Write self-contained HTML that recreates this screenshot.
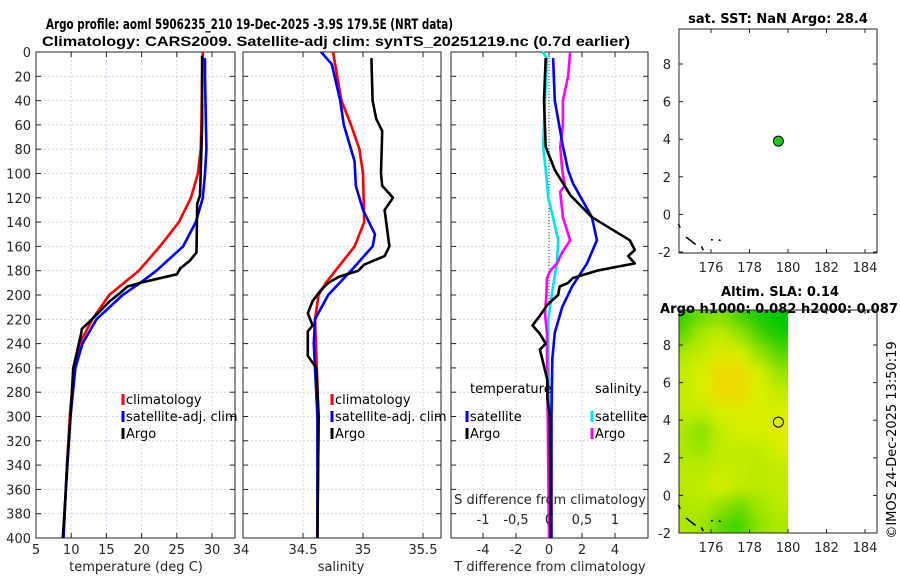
<!DOCTYPE html>
<html><head><meta charset="utf-8"><style>
body{margin:0;background:#fff}
svg{display:block;font-family:"DejaVu Sans","Liberation Sans",sans-serif}
</style></head><body>
<svg id="s" width="900" height="580" viewBox="0 0 900 580">
<defs>
<filter id="blur" x="-10%" y="-10%" width="120%" height="120%"><feGaussianBlur stdDeviation="7"/></filter>
<clipPath id="slaclip"><rect x="679" y="310" width="109" height="223"/></clipPath>
</defs>
</svg>
<script>
// ---------- data ----------
const climTdepth=[0,20,60,80,100,120,140,160,180,200,220,240,260,300,340,400];
const climTval=[28.7,28.6,28.5,28.4,28.0,27.0,25.3,22.6,19.6,15.4,13.0,11.2,10.4,9.8,9.4,8.9];
const satTdepth=[5,20,80,100,120,140,160,180,190,200,220,240,260,300,340,400];
const satTval=[29.0,29.0,29.2,29.0,28.7,27.7,25.9,22.1,19.8,17.3,13.6,11.6,10.6,9.9,9.4,8.9];
const argoTdepth=[3,60,100,118,125,165,172,178,183,187,190,193,198,205,215,222,228,232,260,300,400];
const argoTval=[28.6,28.6,28.4,28.3,27.9,27.8,26.8,25.5,25.0,22.0,19.8,18.0,17.0,15.5,13.8,12.6,11.5,11.4,10.3,9.9,8.8];

const climSdepth=[0,40,60,80,100,140,160,180,190,200,220,300,400];
const climSval=[34.75,34.82,34.9,34.97,35.0,35.01,34.93,34.77,34.69,34.63,34.6,34.63,34.62];
const satSdepth=[0,10,40,60,90,110,130,150,160,180,200,220,240,300,400];
const satSval=[34.65,34.74,34.81,34.84,34.93,34.94,35.0,35.1,35.08,34.9,34.71,34.6,34.59,34.62,34.62];
const argoSdepth=[5,40,55,65,100,110,120,130,160,168,175,180,185,190,196,205,215,225,230,250,260,300,400];
const argoSval=[35.07,35.08,35.11,35.16,35.15,35.16,35.25,35.18,35.22,35.18,35.01,34.96,34.8,34.71,34.65,34.58,34.54,34.58,34.54,34.54,34.61,34.63,34.62];

const dTsatDepth=[5,40,78,97,108,136,155,174,193,210,231,253,300,400];
const dTsatVal=[0.25,0.35,0.85,1.15,1.45,2.6,2.9,2.3,1.4,0.8,0.35,0.2,0.15,0.15];
const dTargoDepth=[5,40,78,97,108,118,136,155,163,168,174,180,186,190,193,200,208,217,225,232,240,245,256,270,285,300,400];
const dTargoVal=[-0.2,-0.3,-0.2,0.35,0.85,1.3,2.6,4.9,5.2,4.8,5.2,2.9,1.45,1.15,0.65,0.55,-0.1,-0.55,-1.0,-0.55,-0.2,-0.55,-0.35,-0.1,-0.1,0.05,0.1];
const dSsatDepth=[0,5,40,78,97,120,136,155,174,193,220,250,300,400];
const dSsatVal=[-0.1,-0.03,-0.06,-0.09,-0.05,-0.01,0.06,0.14,0.12,0.06,-0.01,-0.01,0.01,0.02];
const dSargoDepth=[0,20,40,60,78,97,110,115,136,155,165,174,180,186,200,215,232,250,300,400];
const dSargoVal=[0.32,0.29,0.21,0.21,0.17,0.2,0.24,0.17,0.21,0.32,0.2,0.12,0.02,-0.03,-0.04,-0.06,-0.03,-0.03,-0.02,0.0];

const depthTicks=[0,20,40,60,80,100,120,140,160,180,200,220,240,260,280,300,320,340,360,380,400];
const tTicks=[5,10,15,20,25,30];
const sTicks=[34,34.5,35,35.5];
const dtTicks=[-4,-2,0,2,4];
const dsTicks=[-1,-0.5,0,0.5,1];
const dsTickLabels=["-1","-0,5","0","0,5","1"];
const lonTicks=[176,178,180,182,184];
const latTicks=[-2,0,2,4,6,8];
const slaLat=[9.5,8.5,7.5,6.5,5.5,4.5,3.5,2.5,1.5,0.5,-0.5,-1.5];
const slaLon=[174.5,175.5,176.5,177.5,178.5,179.5];
const slaVal=[
[0.2,0.5,0.6,0.3,0.1,0.0],
[0.4,0.8,0.9,0.7,0.3,0.1],
[0.8,0.9,1.1,1.0,0.7,0.4],
[0.9,1.0,1.3,1.3,1.0,0.7],
[0.9,1.0,1.3,1.3,1.0,0.9],
[0.9,0.9,1.0,1.1,1.0,1.0],
[0.8,0.6,0.9,1.0,1.0,1.1],
[0.8,0.7,0.9,0.9,0.9,1.0],
[0.85,0.85,0.9,0.9,0.85,0.9],
[0.85,0.9,1.0,0.9,0.85,0.9],
[0.8,0.85,0.7,0.5,0.75,0.85],
[0.8,0.75,0.4,0.3,0.65,0.8]];
const argoLon=179.5, argoLat=3.9;

// ---------- helpers ----------
const S=document.getElementById('s');const NS='http://www.w3.org/2000/svg';
function el(t,a,p){const e=document.createElementNS(NS,t);for(const k in a)e.setAttribute(k,a[k]);(p||S).appendChild(e);return e;}
function txt(x,y,s,a,p){const e=el('text',Object.assign({x:x,y:y,'font-size':13,fill:'#262626'},a||{}),p);e.textContent=s;return e;}
const Y0=52,Y1=538;
const yD=d=>Y0+(d/400)*(Y1-Y0);
function lin(d0,d1,r0,r1){return v=>r0+(v-d0)/(d1-d0)*(r1-r0);}

function panel(name,x0,x1,xs,xticks,showY){
  const g=el('g',{});
  
  
  xticks.forEach(v=>{const X=xs(v);if(X>x0+1&&X<x1-1)el('line',{x1:X,y1:Y0,x2:X,y2:Y1,stroke:'#c8cfe6','stroke-width':0.8,'stroke-dasharray':'2,2'},g);});
  depthTicks.forEach(d=>{const Y=yD(d);el('line',{x1:x0,y1:Y,x2:x1,y2:Y,stroke:'#c8cfe6','stroke-width':0.8,'stroke-dasharray':'2,2'},g);
    el('line',{x1:x0,y1:Y,x2:x0+5,y2:Y,stroke:'#262626'},g);el('line',{x1:x1-5,y1:Y,x2:x1,y2:Y,stroke:'#262626'},g);
    if(showY){const t=txt(x0-5,Y+5,String(d),{'text-anchor':'end'});}});
  xticks.forEach(v=>{const X=xs(v);el('line',{x1:X,y1:Y0,x2:X,y2:Y0+5,stroke:'#262626'},g);el('line',{x1:X,y1:Y1-5,x2:X,y2:Y1,stroke:'#262626'},g);});
  el('rect',{x:x0,y:Y0,width:x1-x0,height:Y1-Y0,fill:'none',stroke:'#262626','stroke-width':1},g);
  return g;
}
function line(xs,depths,vals,color,name){
  const pts=depths.map((d,i)=>xs(vals[i]).toFixed(1)+','+yD(d).toFixed(1)).join(' ');
  const p=el('polyline',{points:pts,fill:'none',stroke:color,'stroke-width':2.6,'stroke-linejoin':'round'});
  
  
}
function legendEntry(x,y,color,label){
  const g=el('g',{});
  
  
  el('line',{x1:x,y1:y-10,x2:x,y2:y+1,stroke:color,'stroke-width':3},g);
  txt(x+3,y,label,{fill:'#000'},g);
}

// ---------- titles ----------
let t=txt(46,29,'Argo profile: aoml 5906235_210 19-Dec-2025 -3.9S 179.5E (NRT data)',{'font-weight':'bold',fill:'#000','font-size':14,textLength:407,lengthAdjust:'spacingAndGlyphs'});

t=txt(42,46,'Climatology: CARS2009. Satellite-adj clim: synTS_20251219.nc (0.7d earlier)',{'font-weight':'bold',fill:'#000','font-family':'Liberation Sans, sans-serif','font-size':14,textLength:588,lengthAdjust:'spacingAndGlyphs'});


// ---------- panel 1 ----------
const xT=lin(5,30,36,212);
panel('temperature-panel',36,235,xT,tTicks,true);
tTicks.forEach(v=>txt(xT(v),554,String(v),{'text-anchor':'middle'}));
t=txt(136,571,'temperature (deg C)',{'text-anchor':'middle'});
line(xT,climTdepth,climTval,'#ff0000','climatology-temperature-line');
line(xT,satTdepth,satTval,'#0000ff','satellite-temperature-line');
line(xT,argoTdepth,argoTval,'#000000','argo-temperature-line');
legendEntry(123,404,'#ff0000','climatology');
legendEntry(123,421,'#0000ff','satellite-adj. clim');
legendEntry(123,438,'#000000','Argo');

// ---------- panel 2 ----------
const xS=lin(34,35,243,363);
panel('salinity-panel',243,441,xS,sTicks,false);
sTicks.forEach(v=>txt(xS(v)-(v==34?2:0),554,String(v),{'text-anchor':'middle'}));
t=txt(341,571,'salinity',{'text-anchor':'middle'});
line(xS,climSdepth,climSval,'#ff0000','climatology-salinity-line');
line(xS,satSdepth,satSval,'#0000ff','satellite-salinity-line');
line(xS,argoSdepth,argoSval,'#000000','argo-salinity-line');
legendEntry(332,404,'#ff0000','climatology');
legendEntry(332,421,'#0000ff','satellite-adj. clim');
legendEntry(332,438,'#000000','Argo');

// ---------- panel 3 ----------
const xDT=lin(0,2,549,582), xDS=lin(0,0.5,549,582);
panel('difference-panel',451,648,xDT,dtTicks,false);
el('line',{x1:549,y1:Y0,x2:549,y2:Y1,stroke:'#333','stroke-width':1,'stroke-dasharray':'1,2'});
line(xDS,dSsatDepth,dSsatVal,'#00e5ee','satellite-salinity-diff-line');
line(xDS,dSargoDepth,dSargoVal,'#ff00ff','argo-salinity-diff-line');
line(xDT,dTsatDepth,dTsatVal,'#0000ff','satellite-temperature-diff-line');
line(xDT,dTargoDepth,dTargoVal,'#000000','argo-temperature-diff-line');
dtTicks.forEach(v=>txt(xDT(v),554,String(v),{'text-anchor':'middle'}));
t=txt(550,571,'T difference from climatology',{'text-anchor':'middle'});
t=txt(550,504,'S difference from climatology',{'text-anchor':'middle'});
dsTicks.forEach((v,i)=>txt(xDS(v),524,dsTickLabels[i],{'text-anchor':'middle'}));
txt(470,393,'temperature',{fill:'#000'});
txt(595,393,'salinity',{fill:'#000'});
legendEntry(467,421,'#0000ff','satellite');
legendEntry(467,438,'#000000','Argo');
legendEntry(592,421,'#00e5ee','satellite');
legendEntry(592,438,'#ff00ff','Argo');

// ---------- maps ----------
const mx=lin(176,184,711,865);
function mapAxes(name,yTop,yBot,ym){
  const g=el('g',{});
  
  
  el('rect',{x:679,y:yTop,width:198,height:yBot-yTop,fill:'none',stroke:'#262626'},g);
  lonTicks.forEach(v=>{const X=mx(v);el('line',{x1:X,y1:yBot,x2:X,y2:yBot-4,stroke:'#262626'},g);el('line',{x1:X,y1:yTop,x2:X,y2:yTop+4,stroke:'#262626'},g);txt(X,yBot+19,String(v),{'text-anchor':'middle'},g);});
  latTicks.forEach(v=>{const Y=ym(v);if(Y<yTop)return;el('line',{x1:679,y1:Y,x2:683,y2:Y,stroke:'#262626'},g);el('line',{x1:877,y1:Y,x2:873,y2:Y,stroke:'#262626'},g);txt(671,Y+5,String(v),{'text-anchor':'end'},g);});
  return g;
}
function coast(ym){
  const segs=[[174.3,-0.5,174.4,-0.7],[174.7,-1.2,175.2,-1.6],[175.5,-1.7,175.6,-1.9],[176.0,-1.35,176.1,-1.35],[176.4,-1.35,176.5,-1.4]];
  segs.forEach(s=>{const l=el('line',{x1:mx(s[0]),y1:ym(s[1]),x2:mx(s[2]),y2:ym(s[3]),stroke:'#000','stroke-width':1.5});});
}
const ymA=lin(-2,8,252,64);
t=txt(778,23,'sat. SST: NaN Argo: 28.4',{'font-weight':'bold',fill:'#000','text-anchor':'middle'});
mapAxes('sst-map',29,253,ymA);
coast(ymA);
let c=el('circle',{cx:mx(argoLon),cy:ymA(argoLat),r:5,fill:'#22c422',stroke:'#000'});


const ymB=lin(-2,8,533,345);
function slaColor(v){
  const stops=[[0,[0,200,0]],[1,[216,240,0]],[1.4,[245,210,0]]];
  for(let i=1;i<stops.length;i++){if(v<=stops[i][0]||i==stops.length-1){const a=stops[i-1],b=stops[i];const f=Math.max(0,Math.min(1,(v-a[0])/(b[0]-a[0])));return 'rgb('+a[1].map((x,k)=>Math.round(x+(b[1][k]-x)*f)).join(',')+')';}}
}
const clipG=el('g',{'clip-path':'url(#slaclip)'});


const blurG=el('g',{filter:'url(#blur)'},clipG);
slaLat.forEach((la,i)=>slaLon.forEach((lo,j)=>{
  let x0=mx(lo-0.5),x1=mx(lo+0.5),y0=ymB(la+0.5),y1=ymB(la-0.5);
  if(j==0)x0-=25; if(j==slaLon.length-1)x1+=25;
  if(i==0)y0-=25; if(i==slaLat.length-1)y1+=25;
  const r=el('rect',{x:x0,y:y0,width:x1-x0+0.5,height:y1-y0+0.5,fill:slaColor(slaVal[i][j])},blurG);
  
  
}));
t=txt(780,296,'Altim. SLA: 0.14',{'font-weight':'bold',fill:'#000','text-anchor':'middle'});
t=txt(779,313,'Argo h1000: 0.082 h2000: 0.087',{'font-weight':'bold',fill:'#000','text-anchor':'middle',textLength:238,lengthAdjust:'spacingAndGlyphs'});
mapAxes('sla-map',310,533,ymB);
coast(ymB);
c=el('circle',{cx:mx(argoLon),cy:ymB(argoLat),r:5,fill:'none',stroke:'#000'});


t=txt(0,0,'©IMOS 24-Dec-2025 13:50:19',{'text-anchor':'middle',transform:'translate(896,440) rotate(-90)',fill:'#000'});

</script>
</body></html>
